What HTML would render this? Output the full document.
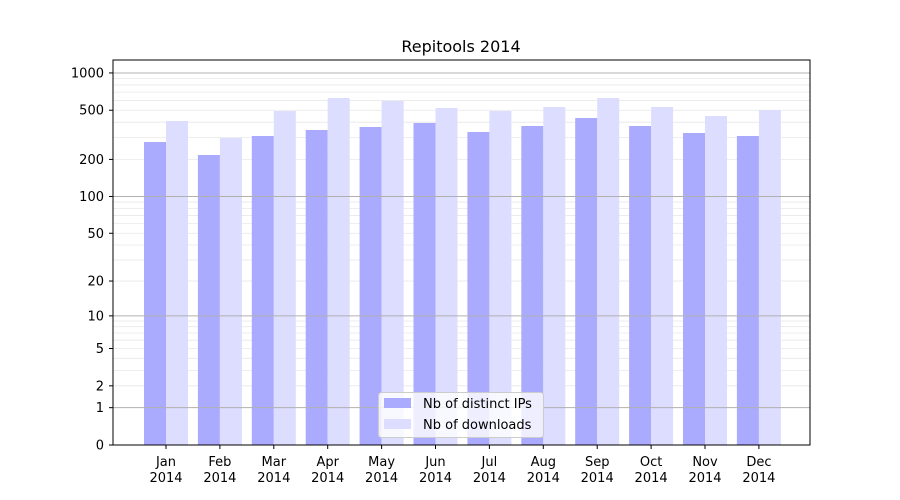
<!DOCTYPE html>
<html><head><meta charset="utf-8"><style>body{margin:0;background:#fff}svg{display:block;font-family:"DejaVu Sans","Liberation Sans",sans-serif}</style></head>
<body>
<svg id="s" width="900" height="500" xmlns="http://www.w3.org/2000/svg">
<rect width="900" height="500" fill="#fff"/>
<g id="mgrid"></g>
<g id="bars"></g>
<g id="grid"></g>
<rect x="113" y="60" width="697" height="385" fill="none" stroke="#000" stroke-width="1"/>
<g id="ticks" font-size="13" fill="#000"></g>
<text x="461" y="52" font-size="16" text-anchor="middle">Repitools 2014</text>
<g>
<rect x="378.5" y="392.5" width="165" height="45" rx="3" fill="#fff" fill-opacity="0.8" stroke="#ccc"/>
<rect x="384" y="398" width="27" height="10" fill="#aaaaff"/>
<rect x="384" y="419" width="27" height="10" fill="#ddddff"/>
<text x="423" y="408" font-size="13">Nb of distinct IPs</text>
<text x="423" y="429" font-size="13">Nb of downloads</text>
</g>
</svg>
<script>
var ns="http://www.w3.org/2000/svg";
function el(p,t,a,txt){var e=document.createElementNS(ns,t);for(var k in a)e.setAttribute(k,a[k]);if(txt)e.textContent=txt;document.getElementById(p).appendChild(e);}
function Y(v){return 445-124*Math.log10(1+v);}
var ip=[142,155,136,130,127,123,132,126,118,126,133,136],dl=[121,138,111,98,101,108,111,107,98,107,116,110];
var m=["Jan","Feb","Mar","Apr","May","Jun","Jul","Aug","Sep","Oct","Nov","Dec"];
for(var i=0;i<12;i++){var c=166+i*53.9;
el("bars","rect",{x:c-22,y:ip[i],width:22,height:445-ip[i],fill:"#aaaaff"});
el("bars","rect",{x:c,y:dl[i],width:22,height:445-dl[i],fill:"#ddddff"});
el("ticks","line",{x1:c,x2:c,y1:445,y2:449,stroke:"#000"});
el("ticks","text",{x:c,y:466,"text-anchor":"middle"},m[i]);
el("ticks","text",{x:c,y:482,"text-anchor":"middle"},"2014");}
[1,10,100].forEach(function(d){for(var k=1;k<=9;k++){var v=d*k,y=Y(v);
if(k==1)el("grid","line",{x1:113,x2:810,y1:y,y2:y,stroke:"#b0b0b0","stroke-width":1});
else el("mgrid","line",{x1:113,x2:810,y1:y,y2:y,stroke:"#e8e8e8","stroke-width":0.8});}});
var y1=Y(1000);el("grid","line",{x1:113,x2:810,y1:y1,y2:y1,stroke:"#b0b0b0"});
[0,1,2,5,10,20,50,100,200,500,1000].forEach(function(v){var y=Y(v);
el("ticks","line",{x1:109,x2:113,y1:y,y2:y,stroke:"#000"});
el("ticks","text",{x:104,y:y+4.5,"text-anchor":"end"},String(v));});
</script>
</body></html>
